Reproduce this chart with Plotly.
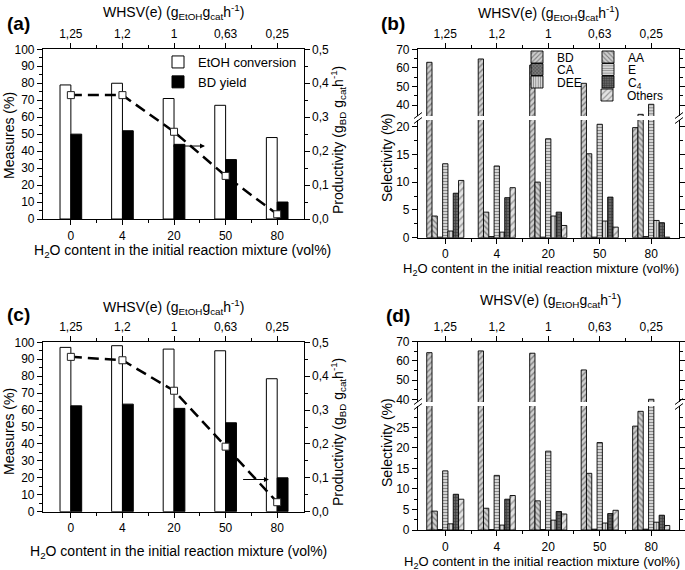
import plotly.graph_objects as go

# ---------------- data ----------------
water_labels = ["0", "4", "20", "50", "80"]
whsv_labels = ["1,25", "1,2", "1", "0,63", "0,25"]

# panel (a)
conv_a = [79, 80, 71, 67, 48]
yield_a = [50, 52, 44, 35, 10]
prod_a = [0.365, 0.365, 0.257, 0.127, 0.014]

# panel (c)
conv_c = [97, 98, 96, 95, 78.5]
yield_c = [62.5, 63.5, 61, 52.5, 20]
prod_c = [0.457, 0.447, 0.357, 0.192, 0.028]

species = ["BD", "AA", "CA", "E", "DEE", "C<sub>4</sub>", "Others"]

# panel (b) selectivities (%)
bd_b = [63, 64.8, 61.5, 51.7, 19.8]
aa_b = [3.9, 4.6, 10.0, 15.1, 35]
ca_b = [0.1, 0.2, 0.1, 0.1, 0.2]
e_b = [13.3, 12.9, 17.8, 20.4, 40.4]
dee_b = [1.2, 1.0, 3.9, 3.0, 3.1]
c4_b = [8.0, 7.2, 4.6, 7.3, 2.7]
oth_b = [10.3, 9.0, 2.2, 1.9, 0.1]

# panel (d) selectivities (%)
bd_d = [64.3, 65.2, 64.0, 55.3, 25.3]
aa_d = [4.6, 5.3, 7.1, 13.8, 28.9]
ca_d = [0.1, 0.1, 0.1, 0.2, 0.2]
e_d = [14.4, 13.3, 19.2, 21.3, 40.0]
dee_d = [1.5, 1.2, 2.4, 1.7, 1.9]
c4_d = [8.7, 7.5, 4.5, 4.0, 3.6]
oth_d = [7.5, 8.4, 3.9, 4.8, 1.1]

sel_b = [bd_b, aa_b, ca_b, e_b, dee_b, c4_b, oth_b]
sel_d = [bd_d, aa_d, ca_d, e_d, dee_d, c4_d, oth_d]

pos = list(range(len(water_labels)))

# ---------------- geometry helpers ----------------
W, H = 685, 570
def fx(p):
    return p / W
def fy(p):
    return 1 - p / H

FONT = "Liberation Sans, Arial, sans-serif"

pattern_styles = [
    dict(shape="/", bgcolor="#cfcfcf", fgcolor="#333333", size=4, solidity=0.35),
    dict(shape="\\", bgcolor="#cfcfcf", fgcolor="#333333", size=4, solidity=0.35),
    dict(shape="x", bgcolor="#7a7a7a", fgcolor="#1a1a1a", size=3, solidity=0.4),
    dict(shape="-", bgcolor="#dddddd", fgcolor="#333333", size=3, solidity=0.4),
    dict(shape="|", bgcolor="#dddddd", fgcolor="#333333", size=3, solidity=0.4),
    dict(shape="+", bgcolor="#666666", fgcolor="#111111", size=3, solidity=0.4),
    dict(shape="/", bgcolor="#e2e2e2", fgcolor="#555555", size=5, solidity=0.3),
]
legend_of = ["legend2", "legend2", "legend3", "legend3", "legend4", "legend4", "legend5"]

fig = go.Figure()

# ---------------- panels (a) and (c) ----------------
def conv_panel(conv, yld, prod, xa, ya, xa2, ya2, show):
    fig.add_trace(go.Bar(x=pos, y=conv, name="EtOH conversion", width=0.21, offset=-0.21,
                         marker=dict(color="white", line=dict(color="black", width=1)),
                         xaxis=xa, yaxis=ya, showlegend=show, legend="legend"))
    fig.add_trace(go.Bar(x=pos, y=yld, name="BD yield", width=0.21, offset=0,
                         marker=dict(color="black", line=dict(color="black", width=1)),
                         xaxis=xa, yaxis=ya, showlegend=show, legend="legend"))
    fig.add_trace(go.Scatter(x=pos, y=prod, mode="lines+markers", showlegend=False,
                             line=dict(color="black", width=2.5, dash="11px,6px"),
                             marker=dict(symbol="square", size=7, color="white",
                                         line=dict(color="#222222", width=1)),
                             xaxis=xa2, yaxis=ya2))

conv_panel(conv_a, yield_a, prod_a, "x", "y", "x2", "y2", True)
conv_panel(conv_c, yield_c, prod_c, "x5", "y5", "x6", "y6", False)

# ---------------- panels (b) and (d) ----------------
nsp = len(species)
bw = 0.103
def sel_panel(sel, xl, yl, xu, yu, show):
    for i, name in enumerate(species):
        common = dict(x=pos, y=sel[i], name=name, width=bw, offset=(i - nsp / 2) * bw,
                      marker=dict(color=pattern_styles[i]["bgcolor"],
                                  pattern=pattern_styles[i],
                                  line=dict(color="black", width=0.9)))
        fig.add_trace(go.Bar(**common, xaxis=xl, yaxis=yl, showlegend=show,
                             legend=legend_of[i]))
        fig.add_trace(go.Bar(**common, xaxis=xu, yaxis=yu, showlegend=False))

sel_panel(sel_b, "x3", "y3", "x4", "y4", True)
sel_panel(sel_d, "x7", "y7", "x8", "y8", False)

# ---------------- axes ----------------
axfont = dict(family=FONT, size=12, color="black")
titlefont = dict(family=FONT, size=14, color="black")
titlefont_r = dict(family=FONT, size=13, color="black")
base = dict(showgrid=False, zeroline=False, showline=True, linecolor="black", linewidth=1.2,
            ticks="outside", ticklen=5, tickwidth=1, tickcolor="black", tickfont=axfont,
            automargin=False)
minor_x = dict(ticks="outside", ticklen=3, tickcolor="black", tickmode="array",
               tickvals=[p + 0.5 for p in pos[:-1]])

water_title = "H<sub>2</sub>O content in the initial reaction mixture (vol%)"
whsv_title = "WHSV(e) (g<sub>EtOH</sub>g<sub>cat</sub>h<sup>-1</sup>)"
prod_title = "Productivity (g<sub>BD</sub> g<sub>cat</sub>h<sup>-1</sup>)"

xr_ac = [-0.54, 4.51]
xr_bd = [-0.53, 4.54]
dom_ac = [fx(43), fx(303.5)]
dom_bd = [fx(418), fx(679)]

def bottom_x(dom, rng, anchor):
    return dict(base, domain=dom, range=rng, anchor=anchor, tickmode="array", tickvals=pos,
                ticktext=water_labels, minor=minor_x)

def top_x(rng, anchor, overlay=None, dom=None):
    d = dict(base, range=rng, anchor=anchor, side="top", tickmode="array", tickvals=pos,
             ticktext=whsv_labels, minor=minor_x)
    if overlay:
        d["overlaying"] = overlay
    if dom:
        d["domain"] = dom
    return d

layout = dict(
    width=W, height=H, margin=dict(l=0, r=0, t=0, b=0, autoexpand=False), autosize=False,
    paper_bgcolor="white", plot_bgcolor="white", barmode="overlay",
    separators=", ", font=dict(family=FONT, size=13, color="black"),
)

# (a)
layout["xaxis"] = bottom_x(dom_ac, xr_ac, "y")
layout["yaxis"] = dict(base, domain=[fy(219), fy(49.3)], range=[0, 100], dtick=10, anchor="x",
                       minor=dict(ticks="outside", ticklen=3, dtick=5, tickcolor="black"))
layout["xaxis2"] = top_x(xr_ac, "y", overlay="x")
layout["yaxis2"] = dict(base, range=[0, 0.5], dtick=0.1, tickformat=".1f", overlaying="y",
                        side="right", anchor="x",
                        minor=dict(ticks="outside", ticklen=3, dtick=0.05, tickcolor="black"))
# (c)
layout["xaxis5"] = bottom_x(dom_ac, xr_ac, "y5")
layout["yaxis5"] = dict(base, domain=[fy(511.7), fy(342.3)], range=[0, 100], dtick=10, anchor="x5",
                        minor=dict(ticks="outside", ticklen=3, dtick=5, tickcolor="black"))
layout["xaxis6"] = top_x(xr_ac, "y5", overlay="x5")
layout["yaxis6"] = dict(base, range=[0, 0.5], dtick=0.1, tickformat=".1f", overlaying="y5",
                        side="right", anchor="x5",
                        minor=dict(ticks="outside", ticklen=3, dtick=0.05, tickcolor="black"))

# (b)
layout["xaxis3"] = bottom_x(dom_bd, xr_bd, "y3")
layout["yaxis3"] = dict(base, domain=[fy(237.7), fy(120)], range=[0, 21.17],
                        tickvals=[0, 5, 10, 15, 20], anchor="x3", mirror="ticks",
                        minor=dict(ticks="outside", ticklen=3, tickmode="array",
                                   tickvals=[2.5, 7.5, 12.5, 17.5], tickcolor="black"))
layout["xaxis4"] = top_x(xr_bd, "y4", dom=dom_bd)
layout["xaxis4"]["matches"] = "x3"
layout["yaxis4"] = dict(base, domain=[fy(116), fy(49.3)], range=[34.1, 70], tickvals=[40, 50, 60, 70],
                        anchor="x4", mirror="ticks",
                        minor=dict(ticks="outside", ticklen=3, tickmode="array",
                                   tickvals=[45, 55, 65], tickcolor="black"))
# (d)
layout["xaxis7"] = bottom_x(dom_bd, xr_bd, "y7")
layout["yaxis7"] = dict(base, domain=[fy(530), fy(406)], range=[0, 30.2],
                        tickvals=[0, 5, 10, 15, 20, 25], anchor="x7", mirror="ticks",
                        minor=dict(ticks="outside", ticklen=3, tickmode="array",
                                   tickvals=[2.5, 7.5, 12.5, 17.5, 22.5, 27.5], tickcolor="black"))
layout["xaxis8"] = top_x(xr_bd, "y8", dom=dom_bd)
layout["xaxis8"]["matches"] = "x7"
layout["yaxis8"] = dict(base, domain=[fy(402), fy(341.7)], range=[38.6, 70], tickvals=[40, 50, 60, 70],
                        anchor="x8", mirror="ticks",
                        minor=dict(ticks="outside", ticklen=3, tickmode="array",
                                   tickvals=[45, 55, 65], tickcolor="black"))

# ---------------- legends ----------------
layout["legend"] = dict(x=fx(158), y=fy(47), xanchor="left", yanchor="top",
                        bgcolor="rgba(0,0,0,0)", font=dict(family=FONT, size=13),
                        tracegroupgap=0, traceorder="normal")
row_y = [57, 69.5, 82, 95]
row_x = [517, 517, 517, 587]
row_w = [26, 26, 26, 60]
for k, ln in enumerate(["legend2", "legend3", "legend4", "legend5"]):
    layout[ln] = dict(x=fx(row_x[k]), y=fy(row_y[k]), xanchor="left", yanchor="middle",
                      orientation="h", entrywidth=row_w[k], entrywidthmode="pixels",
                      bgcolor="rgba(0,0,0,0)", font=dict(family=FONT, size=12),
                      traceorder="normal")

fig.update_layout(**layout)

# ---------------- annotations (titles, labels, arrows) ----------------
ann = []
def text_ann(txt, x, y, font, angle=0):
    ann.append(dict(text=txt, x=fx(x), y=fy(y), xref="paper", yref="paper", showarrow=False,
                    textangle=angle, font=font, xanchor="center", yanchor="middle"))

for lab, x, y in [("(a)", 18, 23), ("(b)", 393, 23), ("(c)", 18, 314), ("(d)", 398, 316)]:
    text_ann("<b>%s</b>" % lab, x, y, dict(family=FONT, size=19, color="black"))
# bottom titles
text_ann(water_title, 182, 251, titlefont)
text_ann(water_title, 541, 269, titlefont_r)
text_ann(water_title, 178, 552, titlefont)
text_ann(water_title, 542, 562, titlefont_r)
# top titles
for x, y in [(174, 12), (548, 13), (174, 307), (550, 300)]:
    text_ann(whsv_title, x, y, titlefont)
# left y titles
text_ann("Measures (%)", 9, 136, titlefont, -90)
text_ann("Measures (%)", 9, 432, titlefont, -90)
text_ann("Selectivity (%)", 387, 157, titlefont, -90)
text_ann("Selectivity (%)", 387, 442, titlefont, -90)
# right y titles
text_ann(prod_title, 338, 140, titlefont, -90)
text_ann(prod_title, 338, 432, titlefont, -90)

# arrows pointing to the right-hand axis
ann.append(dict(x=2.6, y=43, ax=1.96, ay=43, xref="x", yref="y", axref="x", ayref="y",
                text="", showarrow=True, arrowhead=2, arrowsize=1, arrowwidth=1, arrowcolor="black"))
ann.append(dict(x=3.84, y=19, ax=3.31, ay=19, xref="x5", yref="y5", axref="x5", ayref="y5",
                text="", showarrow=True, arrowhead=2, arrowsize=1, arrowwidth=1, arrowcolor="black"))
fig.update_layout(annotations=ann)

# ---------------- axis-break marks ----------------
shapes = []
for xb, yc in [(418, 118), (679, 118), (418, 404), (679, 404)]:
    for d in (-2.5, 2.5):
        shapes.append(dict(type="line", xref="paper", yref="paper",
                           x0=fx(xb - 4), y0=fy(yc + d + 3), x1=fx(xb + 4), y1=fy(yc + d - 3),
                           line=dict(color="black", width=1)))
fig.update_layout(shapes=shapes)

# the page body has a default 8px margin; remove it so the figure fills the window exactly
fig.write_html("out.html", config={"displayModeBar": False},
               post_script="document.body.style.margin='0px';")
